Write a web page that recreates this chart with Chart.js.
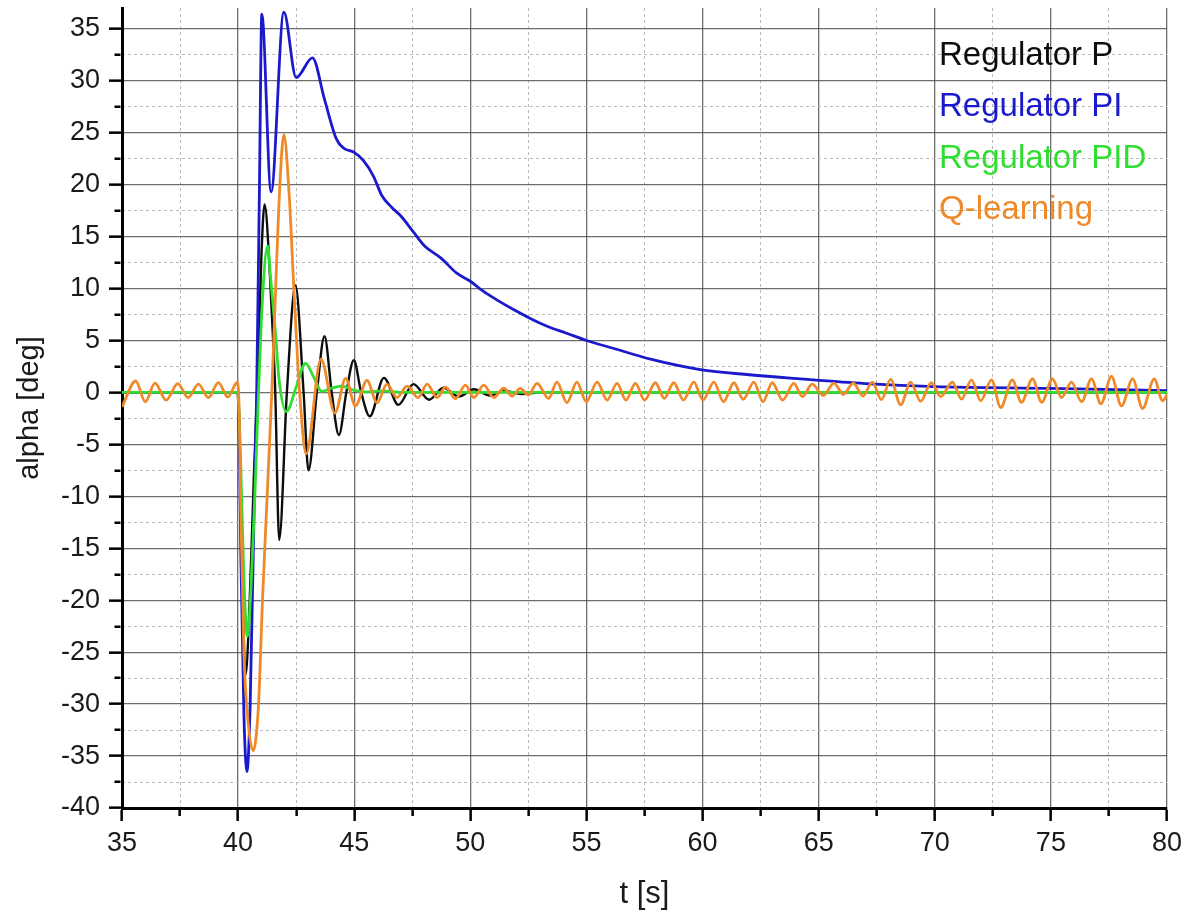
<!DOCTYPE html>
<html><head><meta charset="utf-8">
<script src="https://cdn.jsdelivr.net/npm/chart.js@4.4.1/dist/chart.umd.min.js"></script>
<style>html,body{margin:0;padding:0;background:#fff;}canvas{display:block;}</style>
</head><body>
<canvas id="c" width="1190" height="915"></canvas>
<script>
// ---- tick labels ----
const xTickLabels = [35, 40, 45, 50, 55, 60, 65, 70, 75, 80];
const yTickLabels = [-40, -35, -30, -25, -20, -15, -10, -5, 0, 5, 10, 15, 20, 25, 30, 35];

// ---- series ----
const seriesNames = ['Regulator P', 'Regulator PI', 'Regulator PID', 'Q-learning'];

const tP = [35, 39.98, 40.1, 40.2, 40.32, 40.5, 40.68, 40.85, 41.0, 41.14, 41.38, 41.52, 41.6, 41.77, 42.1, 42.47, 42.82, 43.03, 43.39, 43.72, 44.03, 44.34, 44.66, 44.98, 45.3, 45.67, 46.28, 46.9, 47.55, 48.22, 48.85, 49.5, 50.15, 50.85, 51.5, 52.2, 53, 80];
const vP = [0, 0, -8, -20, -27.2, -20, -8, 2, 13, 18.1, 10.9, 4.4, 0, -14.2, 0, 10.3, 0, -7.5, 0, 5.4, 0, -4.1, 0, 3.1, 0, -2.3, 1.4, -1.2, 0.8, -0.7, 0.45, -0.4, 0.3, -0.3, 0.15, -0.15, 0, 0];

const tPI = [35, 39.98, 40.05, 40.12, 40.25, 40.38, 40.52, 40.7, 40.8, 40.92, 41.02, 41.42, 41.97, 42.5, 43.2, 43.72, 44.23, 44.55, 45.0, 45.4, 45.83, 46.2, 46.62, 47.0, 47.53, 48.03, 48.75, 49.4, 50.0, 50.4, 51.0, 51.84, 52.56, 53.28, 54.14, 55.0, 56.15, 57.76, 59.9, 62.0, 64.2, 67.0, 70.0, 75.0, 80.0];
const vPI = [0, 0, -4, -16, -31, -36.5, -30, -10, 0, 20, 36.4, 19.3, 36.6, 30.3, 32.2, 28.2, 24.4, 23.5, 23.1, 22.3, 20.8, 18.9, 17.8, 17.0, 15.5, 14.1, 12.9, 11.5, 10.7, 10.0, 9.1, 8.0, 7.15, 6.4, 5.7, 5.0, 4.25, 3.2, 2.2, 1.7, 1.3, 0.85, 0.55, 0.38, 0.18];

const tPID = [35, 39.98, 40.1, 40.25, 40.4, 40.55, 40.72, 40.88, 41.05, 41.27, 41.4, 41.6, 41.76, 42.08, 42.5, 42.9, 43.25, 43.6, 44.0, 44.45, 45.0, 45.5, 46.2, 47, 80];
const vPID = [0, 0, -6, -18, -23.5, -19, -10, 0, 9, 14.1, 11, 6, 1.3, -1.85, 0.5, 2.8, 1.5, 0.1, 0.4, 0.6, 0.2, 0.05, 0.15, 0, 0];

const tQ = [35, 35.59, 36.0, 36.42, 36.9, 37.4, 37.85, 38.29, 38.72, 39.15, 39.56, 39.97, 40.05, 40.12, 40.25, 40.4, 40.65, 40.88, 41.05, 41.25, 41.45, 41.65, 41.81, 41.97, 42.2, 42.4, 42.65, 42.93, 43.57, 44.17, 44.63, 45.05, 45.55, 45.98, 46.41, 46.84, 47.28, 47.75, 48.14, 48.57, 48.93, 49.36, 49.79, 50.15, 50.58, 51.01, 51.44, 51.8, 52.15, 52.5, 52.87, 53.37, 53.73, 54.16, 54.59, 54.99, 55.46, 55.89, 56.32, 56.7, 57.11, 57.5, 57.97, 58.35, 58.76, 59.18, 59.62, 60.02, 60.49, 60.9, 61.35, 61.75, 62.21, 62.6, 63.0, 63.45, 63.93, 64.3, 64.72, 65.2, 65.66, 66.06, 66.49, 66.91, 67.31, 67.7, 68.1, 68.53, 68.96, 69.39, 69.85, 70.25, 70.76, 71.15, 71.58, 71.98, 72.44, 72.84, 73.34, 73.73, 74.21, 74.6, 75.07, 75.46, 75.89, 76.32, 76.75, 77.15, 77.61, 78.04, 78.52, 78.95, 79.45, 79.81, 80];
const vQ = [-1.4, 1.1, -0.9, 0.9, -0.75, 0.85, -0.5, 0.8, -0.5, 0.95, -0.45, 1.0, -2, -12, -25, -31, -34.5, -30, -20, -10, 0, 12, 20.5, 24.8, 19, 10, 0, -5.9, 3.2, -2.0, 1.35, -1.3, 1.15, -1.0, 0.8, -0.5, 0.6, -0.5, 0.8, -0.5, 0.5, -0.6, 0.7, -0.5, 0.7, -0.5, 0.4, -0.35, 0.38, -0.25, 0.87, -0.58, 1.0, -1.0, 1.0, -0.9, 1.0, -0.74, 0.87, -0.74, 0.87, -0.74, 0.93, -0.58, 0.93, -0.74, 1.0, -0.74, 1.0, -0.9, 0.93, -0.67, 1.0, -0.9, 0.93, -0.74, 0.87, -0.4, 0.8, -0.3, 0.9, -0.2, 0.9, -0.35, 1.0, -0.7, 1.25, -1.2, 1.0, -0.85, 0.95, -0.4, 1.0, -0.65, 1.2, -0.8, 1.2, -1.45, 1.2, -0.95, 1.3, -0.95, 1.3, -0.5, 1.0, -0.9, 1.3, -1.1, 1.55, -1.3, 1.3, -1.55, 1.3, -0.8, -0.2];

// ---- helpers ----
const pts = (ts, vs) => ts.map((t, i) => ({x: t, y: vs[i]}));
const mids = arr => arr.slice(1).map((v, i) => (v + arr[i]) / 2);
const xMinor = mids(xTickLabels);
const yMinor = mids(yTickLabels);
const xAll = [...xTickLabels, ...xMinor].sort((a, b) => a - b);
const yAll = [...yTickLabels, ...yMinor].sort((a, b) => a - b);

const FONT = '"Liberation Sans", Arial, Helvetica, sans-serif';
Chart.defaults.font.family = FONT;

const colors = ['#0d0d0d', '#1a1acc', '#30de30', '#ee8a2a'];

const textLegend = {
  id: 'textLegend',
  afterDraw(chart) {
    const {ctx, chartArea} = chart;
    ctx.save();
    ctx.font = '33px ' + FONT;
    ctx.textAlign = 'left';
    ctx.textBaseline = 'alphabetic';
    chart.data.datasets.forEach((ds, i) => {
      ctx.fillStyle = ds.borderColor;
      ctx.fillText(ds.label, chartArea.right - 228, chartArea.top + 57 + i * 51.3);
    });
    ctx.restore();
  }
};

const majorGrid = 'rgba(85,85,85,0.85)';
const minorGrid = '#b9b9b9';

const mk = (name, ts, vs, col, order, w) => ({
  label: name, data: pts(ts, vs), borderColor: col, backgroundColor: col,
  borderWidth: w, pointRadius: 0, fill: false, order: order,
  cubicInterpolationMode: 'monotone'
});

new Chart(document.getElementById('c'), {
  type: 'line',
  data: {
    datasets: [
      mk(seriesNames[0], tP, vP, colors[0], 4, 2.4),
      mk(seriesNames[1], tPI, vPI, colors[1], 3, 2.8),
      mk(seriesNames[2], tPID, vPID, colors[2], 2, 2.8),
      mk(seriesNames[3], tQ, vQ, colors[3], 1, 2.8)
    ]
  },
  options: {
    responsive: false,
    devicePixelRatio: 1,
    animation: false,
    parsing: false,
    normalized: true,
    layout: {padding: {top: 8, right: 23, left: 0, bottom: 0}},
    plugins: {legend: {display: false}, tooltip: {enabled: false}},
    scales: {
      x: {
        type: 'linear', position: 'bottom', min: 35, max: 80, bounds: 'data', weight: 1,
        afterBuildTicks: s => { s.ticks = xAll.map(v => ({value: v})); },
        afterFit: s => { s.height = 107; s.paddingLeft = 0; s.paddingRight = 0; },
        ticks: {
          autoSkip: false, maxRotation: 0, minRotation: 0, padding: 6, color: '#1a1a1a',
          font: {size: 27, family: FONT},
          callback: v => xTickLabels.includes(v) ? String(v) : ''
        },
        grid: {
          color: c => (c.tick && xTickLabels.includes(c.tick.value)) ? majorGrid : 'rgba(0,0,0,0)',
          lineWidth: 1.3, tickLength: 13, tickWidth: 2.5, tickColor: '#000',
          tickBorderDash: c => (c.tick && xTickLabels.includes(c.tick.value)) ? [] : [6, 100]
        },
        border: {display: true, color: '#000', width: 3},
        title: {display: true, text: 't [s]', color: '#1a1a1a', font: {size: 31, family: FONT}, padding: {top: 0, bottom: 2}}
      },
      xm: {
        type: 'linear', position: 'bottom', min: 35, max: 80, bounds: 'data', weight: 0,
        afterBuildTicks: s => { s.ticks = xMinor.map(v => ({value: v})); },
        afterFit: s => { s.height = 0; s.paddingLeft = 0; s.paddingRight = 0; },
        ticks: {display: false},
        grid: {color: minorGrid, lineWidth: 1, drawTicks: false},
        border: {display: false, dash: [3, 3]}
      },
      y: {
        type: 'linear', position: 'left', min: -40, max: 37, bounds: 'data', weight: 1,
        afterBuildTicks: s => { s.ticks = yAll.map(v => ({value: v})); },
        afterFit: s => { s.width = 122; s.paddingTop = 0; s.paddingBottom = 0; },
        ticks: {
          autoSkip: false, padding: 9, color: '#1a1a1a',
          font: {size: 27, family: FONT},
          callback: v => yTickLabels.includes(v) ? String(v) : ''
        },
        grid: {
          color: c => (c.tick && yTickLabels.includes(c.tick.value)) ? majorGrid : 'rgba(0,0,0,0)',
          lineWidth: 1.3, tickLength: 13, tickWidth: 2.5, tickColor: '#000',
          tickBorderDash: c => (c.tick && yTickLabels.includes(c.tick.value)) ? [] : [0, 5.5, 6, 100]
        },
        border: {display: true, color: '#000', width: 3},
        title: {display: true, text: 'alpha [deg]', color: '#1a1a1a', font: {size: 29, family: FONT}, padding: {top: 13, bottom: 0}}
      },
      ym: {
        type: 'linear', position: 'left', min: -40, max: 37, bounds: 'data', weight: 0,
        afterBuildTicks: s => { s.ticks = yMinor.map(v => ({value: v})); },
        afterFit: s => { s.width = 0; s.paddingTop = 0; s.paddingBottom = 0; },
        ticks: {display: false},
        grid: {color: minorGrid, lineWidth: 1, drawTicks: false},
        border: {display: false, dash: [3, 3]}
      }
    }
  },
  plugins: [textLegend]
});
</script>
</body></html>
